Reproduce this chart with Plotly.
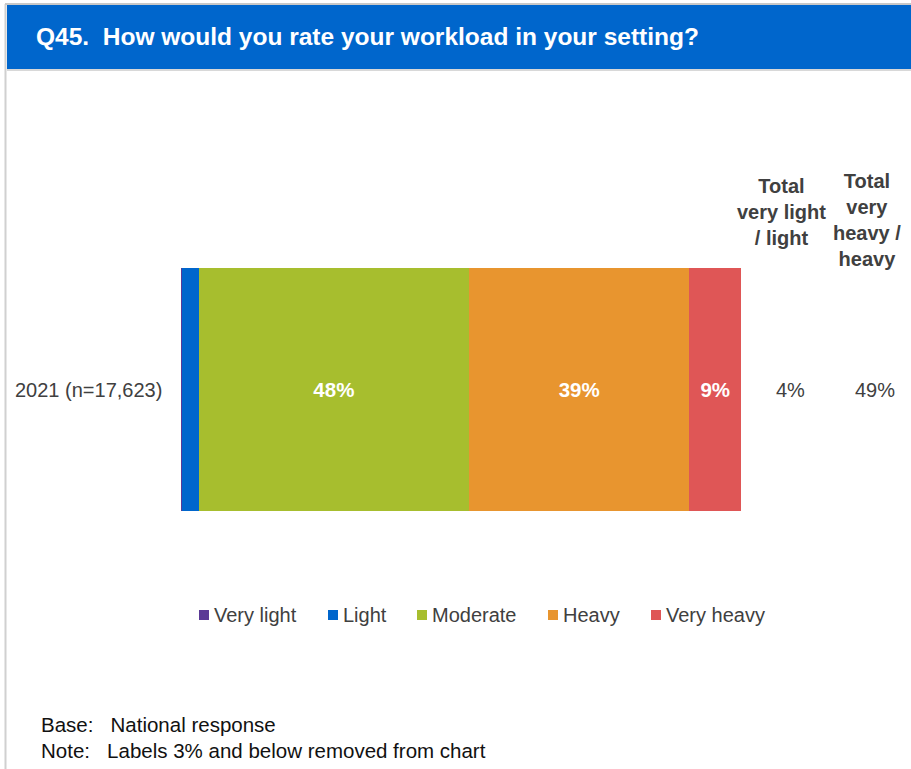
import plotly.graph_objects as go

categories = ["2021 (n=17,623)"]
series_names = ["Very light", "Light", "Moderate", "Heavy", "Very heavy"]
series_values = [[0.2], [3.0], [48.2], [39.4], [9.2]]
series_colors = ["#5B3A96", "#0066CC", "#A7BE2E", "#E8952F", "#DF5656"]
total_headers = ["Total<br>very light<br>/ light", "Total<br>very<br>heavy /<br>heavy"]
total_values = ["4%", "49%"]

W, H = 911, 769
FONT = "Liberation Sans, Arial, sans-serif"
fig = go.Figure()

for name, vals, col in zip(series_names, series_values, series_colors):
    texts = [f"<b>{round(v)}%</b>" if v > 3.5 else "" for v in vals]
    fig.add_trace(go.Bar(
        name=name, x=vals, y=[0], orientation="h", marker=dict(color=col, line=dict(width=0)),
        width=1, text=texts, textposition="inside", insidetextanchor="middle",
        textfont=dict(family=FONT, size=20.5, color="white"),
        hoverinfo="skip", showlegend=False,
    ))

fig.update_layout(
    width=W, height=H, barmode="stack", plot_bgcolor="white", paper_bgcolor="white",
    margin=dict(l=0, r=0, t=0, b=0),
    xaxis=dict(domain=[181 / W, 741 / W], range=[0, 100], visible=False, fixedrange=True),
    yaxis=dict(domain=[1 - 511 / H, 1 - 268 / H], range=[-0.5, 0.5], visible=False),
    showlegend=False,
    font=dict(family=FONT),
    uniformtext=dict(minsize=20.5, mode="show"),
)

shapes = [
    dict(type="rect", xref="paper", yref="paper", x0=7 / W, x1=1, y0=1 - 69 / H, y1=1 - 5 / H,
         fillcolor="#0066CC", line=dict(width=0), layer="below"),
    dict(type="line", xref="paper", yref="paper", x0=5.5 / W, x1=5.5 / W, y0=0, y1=1 - 4 / H,
         line=dict(color="#D0D0D0", width=2)),
    dict(type="line", xref="paper", yref="paper", x0=5 / W, x1=1, y0=1 - 4 / H, y1=1 - 4 / H,
         line=dict(color="#C8C8C8", width=2)),
    dict(type="line", xref="paper", yref="paper", x0=7 / W, x1=1, y0=1 - 70 / H, y1=1 - 70 / H,
         line=dict(color="#D8D8D8", width=2)),
]

ann = []
# manual legend
legend_x = [199, 328, 417, 548, 651]
for lx, name, col in zip(legend_x, series_names, series_colors):
    shapes.append(dict(type="rect", xref="paper", yref="paper", x0=lx / W, x1=(lx + 10) / W,
                       y0=1 - 620 / H, y1=1 - 610 / H, fillcolor=col, line=dict(width=0)))
    ann.append(dict(text=name, xref="paper", yref="paper", x=(lx + 13) / W, y=1 - 615 / H,
                    xanchor="left", yanchor="middle", showarrow=False,
                    font=dict(size=20, color="#404040", family=FONT)))
fig.update_layout(shapes=shapes)

ann.append(dict(text="<b>Q45.  How would you rate your workload in your setting?</b>", xref="paper", yref="paper",
                x=34 / W, y=1 - 37 / H, xanchor="left", yanchor="middle", showarrow=False,
                font=dict(size=24.5, color="white", family=FONT)))
ann.append(dict(text=categories[0], xref="paper", y=0, yref="y", x=164 / W, xanchor="right", yanchor="middle",
                showarrow=False, font=dict(size=20, color="#404040", family=FONT)))
hdr_x = [781, 867]
hdr_y = [212, 220]
val_x = [790, 875]
for hx, hy, vx, ht, tv in zip(hdr_x, hdr_y, val_x, total_headers, total_values):
    ann.append(dict(text=f"<b>{ht}</b>", xref="paper", yref="paper", x=hx / W, y=1 - hy / H,
                    xanchor="center", yanchor="middle", showarrow=False, align="center",
                    font=dict(size=20, color="#404040", family=FONT)))
    ann.append(dict(text=tv, xref="paper", yref="y", x=vx / W, y=0, xanchor="center", yanchor="middle",
                    showarrow=False, font=dict(size=20, color="#404040", family=FONT)))
ann.append(dict(text="Base:   National response", xref="paper", yref="paper", x=39 / W, y=1 - 724 / H,
                xanchor="left", yanchor="middle", showarrow=False, font=dict(size=20.5, color="#111111", family=FONT)))
ann.append(dict(text="Note:   Labels 3% and below removed from chart", xref="paper", yref="paper", x=39 / W,
                y=1 - 750 / H, xanchor="left", yanchor="middle", showarrow=False,
                font=dict(size=20.5, color="#111111", family=FONT)))
fig.update_layout(annotations=ann)

fig.write_html("out.html", config={"displayModeBar": False},
               post_script="document.body.style.margin='0';document.body.style.overflow='hidden';")
